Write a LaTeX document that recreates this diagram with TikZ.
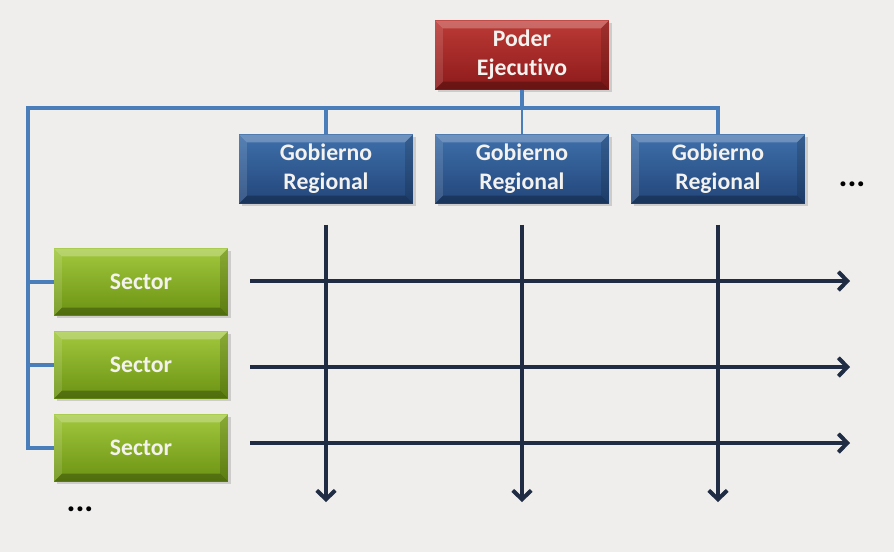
\documentclass[tikz,border=0pt]{standalone}
\usepackage{fontspec}
\setmainfont{Carlito}[Ligatures=NoCommon]
\usetikzlibrary{arrows.meta,shadows}

\definecolor{fondo}{HTML}{EFEEEC}
\definecolor{rojoA}{HTML}{BC3A36}
\definecolor{rojoB}{HTML}{8C1A1A}
\definecolor{azulA}{HTML}{3F6FAA}
\definecolor{azulB}{HTML}{22467A}
\definecolor{verdeA}{HTML}{A2C83E}
\definecolor{verdeB}{HTML}{6B9212}
\definecolor{enlace}{HTML}{4A7EBB}
\definecolor{oscuro}{HTML}{1F2C44}
\definecolor{letra}{HTML}{F4F2EE}

\tikzset{
  caja/.style={minimum width=3.48cm, minimum height=1.38cm, inner sep=0pt,
    text=letra, align=center, font=\bfseries\fontsize{13.5}{16.6}\selectfont,
    drop shadow={opacity=0.3, shadow xshift=1.5pt, shadow yshift=-1.5pt},
    path picture={
      \fill[white,opacity=0.25] (path picture bounding box.north west) -- (path picture bounding box.north east)
        -- ([xshift=-4.5pt,yshift=-4.5pt]path picture bounding box.north east) -- ([xshift=4.5pt,yshift=-4.5pt]path picture bounding box.north west) -- cycle;
      \fill[white,opacity=0.12] (path picture bounding box.north west) -- (path picture bounding box.south west)
        -- ([xshift=4.5pt,yshift=4.5pt]path picture bounding box.south west) -- ([xshift=4.5pt,yshift=-4.5pt]path picture bounding box.north west) -- cycle;
      \fill[black,opacity=0.25] (path picture bounding box.south west) -- (path picture bounding box.south east)
        -- ([xshift=-4.5pt,yshift=4.5pt]path picture bounding box.south east) -- ([xshift=4.5pt,yshift=4.5pt]path picture bounding box.south west) -- cycle;
      \fill[black,opacity=0.15] (path picture bounding box.north east) -- (path picture bounding box.south east)
        -- ([xshift=-4.5pt,yshift=4.5pt]path picture bounding box.south east) -- ([xshift=-4.5pt,yshift=-4.5pt]path picture bounding box.north east) -- cycle;
    }},
  poder/.style={caja, top color=rojoA, bottom color=rojoB},
  gobierno/.style={caja, top color=azulA, bottom color=azulB},
  sector/.style={caja, minimum height=1.34cm, top color=verdeA, bottom color=verdeB},
  enlace/.style={draw=enlace, line width=2.4pt},
  flecha/.style={draw=oscuro, line width=2.3pt, -{Straight Barb[length=5pt,width=10.5pt]}},
  puntos/.style={font=\bfseries\fontsize{19}{20}\selectfont, text=black}
}

\begin{document}
\begin{tikzpicture}[x=0.02cm, y=-0.02cm]
  \fill[fondo] (0,0) rectangle (894,552);

  % cajas
  \node[poder] (ejec) at (522,55) {Poder\\Ejecutivo};
  \node[gobierno] (gob1) at (326,169) {Gobierno\\Regional};
  \node[gobierno] (gob2) at (522,169) {Gobierno\\Regional};
  \node[gobierno] (gob3) at (718,169) {Gobierno\\Regional};
  \node[sector] (sec1) at (141,282) {Sector};
  \node[sector] (sec2) at (141,365) {Sector};
  \node[sector] (sec3) at (141,448) {Sector};
  \node[puntos] (dots1) at (852,184) {...};
  \node[puntos] (dots2) at (80,509) {...};

  % enlaces
  \coordinate (bus) at (522,108);
  \coordinate (izq) at (28,108);
  \draw[enlace] (ejec.south) -- (bus);
  \draw[enlace] (gob1.north) -- (gob1.north |- bus) -- (gob3.north |- bus) -- (gob3.north);
  \draw[draw=enlace, line width=0.8pt] (bus) -- (gob2.north);
  \draw[enlace] (gob1.north |- bus) -- (izq) -- (izq |- sec3.west) -- (sec3.west);
  \draw[enlace] (izq |- sec1.west) -- (sec1.west);
  \draw[enlace] (izq |- sec2.west) -- (sec2.west);

  % flechas
  \coordinate (fin) at (850,502);
  \foreach \g in {gob1,gob2,gob3}
    \draw[flecha] ([yshift=-12pt]\g.south) -- (\g.south |- fin);
  \foreach \n/\y in {1/281,2/367,3/443} {
    \coordinate (ini\n) at (250,\y);
    \draw[flecha] (ini\n) -- (ini\n -| fin);
  }
\end{tikzpicture}
\end{document}
